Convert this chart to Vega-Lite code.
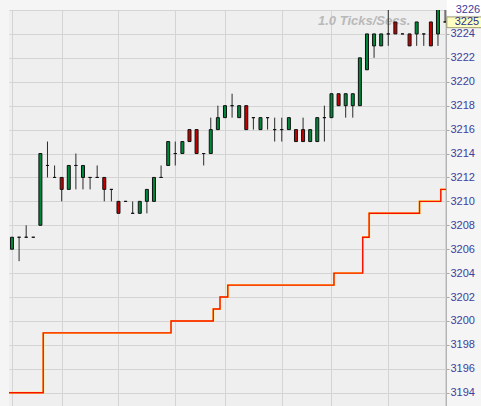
{
  "$schema": "https://vega.github.io/schema/vega-lite/v6.json",
  "width": 437,
  "height": 396,
  "autosize": {"type": "none"},
  "padding": {"left": 9, "top": 10, "right": 35, "bottom": 0},
  "background": "#f5f5f5",
  "config": {"view": {"fill": "#efefef", "stroke": null}, "axis": {"labelOverlap": false}},
  "datasets": {
    "candles": [
      {"i": 0, "o": 3206, "h": 3207, "l": 3206, "c": 3207},
      {"i": 1, "o": 3207, "h": 3207, "l": 3205, "c": 3207},
      {"i": 2, "o": 3207, "h": 3208, "l": 3207, "c": 3207},
      {"i": 3, "o": 3207, "h": 3207, "l": 3207, "c": 3207},
      {"i": 4, "o": 3208, "h": 3214, "l": 3208, "c": 3214},
      {"i": 5, "o": 3213, "h": 3215, "l": 3212, "c": 3213},
      {"i": 6, "o": 3212, "h": 3213, "l": 3212, "c": 3212},
      {"i": 7, "o": 3212, "h": 3212, "l": 3210, "c": 3211},
      {"i": 8, "o": 3211, "h": 3213, "l": 3211, "c": 3213},
      {"i": 9, "o": 3213, "h": 3214, "l": 3211, "c": 3213},
      {"i": 10, "o": 3212, "h": 3213, "l": 3211, "c": 3213},
      {"i": 11, "o": 3212, "h": 3212, "l": 3211, "c": 3212},
      {"i": 12, "o": 3212, "h": 3213, "l": 3212, "c": 3212},
      {"i": 13, "o": 3212, "h": 3212, "l": 3210, "c": 3211},
      {"i": 14, "o": 3211, "h": 3211, "l": 3210, "c": 3211},
      {"i": 15, "o": 3210, "h": 3210, "l": 3209, "c": 3209},
      {"i": 16, "o": 3210, "h": 3210, "l": 3210, "c": 3210},
      {"i": 17, "o": 3209, "h": 3210, "l": 3209, "c": 3209},
      {"i": 18, "o": 3209, "h": 3210, "l": 3209, "c": 3210},
      {"i": 19, "o": 3210, "h": 3211, "l": 3209, "c": 3211},
      {"i": 20, "o": 3210, "h": 3212, "l": 3210, "c": 3212},
      {"i": 21, "o": 3212, "h": 3213, "l": 3212, "c": 3212},
      {"i": 22, "o": 3213, "h": 3215, "l": 3213, "c": 3215},
      {"i": 23, "o": 3214, "h": 3215, "l": 3213, "c": 3214},
      {"i": 24, "o": 3214, "h": 3215, "l": 3214, "c": 3215},
      {"i": 25, "o": 3216, "h": 3216, "l": 3215, "c": 3215},
      {"i": 26, "o": 3216, "h": 3216, "l": 3214, "c": 3214},
      {"i": 27, "o": 3214, "h": 3214, "l": 3213, "c": 3214},
      {"i": 28, "o": 3214, "h": 3217, "l": 3214, "c": 3216},
      {"i": 29, "o": 3216, "h": 3218, "l": 3216, "c": 3217},
      {"i": 30, "o": 3217, "h": 3218, "l": 3217, "c": 3218},
      {"i": 31, "o": 3218, "h": 3219, "l": 3217, "c": 3218},
      {"i": 32, "o": 3217, "h": 3218, "l": 3217, "c": 3218},
      {"i": 33, "o": 3218, "h": 3218, "l": 3216, "c": 3216},
      {"i": 34, "o": 3217, "h": 3217, "l": 3216, "c": 3217},
      {"i": 35, "o": 3216, "h": 3217, "l": 3216, "c": 3217},
      {"i": 36, "o": 3217, "h": 3217, "l": 3216, "c": 3217},
      {"i": 37, "o": 3216, "h": 3217, "l": 3215, "c": 3216},
      {"i": 38, "o": 3216, "h": 3217, "l": 3215, "c": 3216},
      {"i": 39, "o": 3216, "h": 3217, "l": 3216, "c": 3217},
      {"i": 40, "o": 3216, "h": 3216, "l": 3215, "c": 3215},
      {"i": 41, "o": 3216, "h": 3217, "l": 3215, "c": 3215},
      {"i": 42, "o": 3215, "h": 3216, "l": 3215, "c": 3216},
      {"i": 43, "o": 3215, "h": 3217, "l": 3215, "c": 3217},
      {"i": 44, "o": 3217, "h": 3218, "l": 3215, "c": 3217},
      {"i": 45, "o": 3217, "h": 3219, "l": 3217, "c": 3219},
      {"i": 46, "o": 3219, "h": 3219, "l": 3218, "c": 3218},
      {"i": 47, "o": 3218, "h": 3219, "l": 3217, "c": 3219},
      {"i": 48, "o": 3218, "h": 3219, "l": 3217, "c": 3219},
      {"i": 49, "o": 3218, "h": 3222, "l": 3218, "c": 3222},
      {"i": 50, "o": 3221, "h": 3224, "l": 3221, "c": 3224},
      {"i": 51, "o": 3223, "h": 3224, "l": 3222, "c": 3224},
      {"i": 52, "o": 3223, "h": 3224, "l": 3223, "c": 3224},
      {"i": 53, "o": 3224, "h": 3226.5, "l": 3223, "c": 3224},
      {"i": 54, "o": 3225, "h": 3225, "l": 3224, "c": 3224},
      {"i": 55, "o": 3224, "h": 3224, "l": 3224, "c": 3224},
      {"i": 56, "o": 3224, "h": 3224, "l": 3223, "c": 3223},
      {"i": 57, "o": 3224, "h": 3225, "l": 3223, "c": 3225},
      {"i": 58, "o": 3224, "h": 3224, "l": 3223, "c": 3224},
      {"i": 59, "o": 3225, "h": 3225, "l": 3223, "c": 3223},
      {"i": 60, "o": 3224, "h": 3226.5, "l": 3223, "c": 3226.5},
      {"i": 61, "o": 3225, "h": 3226.5, "l": 3225, "c": 3225}
    ],
    "stop": [
      {"i": -0.42, "v": 3194},
      {"i": 4.4, "v": 3199},
      {"i": 22.4, "v": 3200},
      {"i": 28.35, "v": 3201},
      {"i": 29.3, "v": 3202},
      {"i": 30.4, "v": 3203},
      {"i": 45.35, "v": 3204},
      {"i": 49.4, "v": 3207},
      {"i": 50.3, "v": 3209},
      {"i": 57.4, "v": 3210},
      {"i": 60.4, "v": 3211},
      {"i": 61.13, "v": 3211}
    ],
    "info": [{"label": "1.0 Ticks/Secs."}],
    "top": [{"p": 3226}],
    "last": [{"p": 3225}]
  },
  "layer": [
    {
      "data": {"name": "info"},
      "mark": {"type": "text", "font": "Liberation Sans", "fontSize": 13, "fontStyle": "italic", "fontWeight": "bold", "color": "#b9b9b9", "align": "left", "baseline": "alphabetic"},
      "encoding": {
        "x": {"datum": 43.1, "type": "quantitative",
              "scale": {"domain": [-0.42, 61.13], "nice": false, "zero": false, "padding": 0},
              "axis": {"values": [0, 7, 15, 23, 30, 38, 45, 53, 61], "grid": true, "gridColor": "#d4d4d4", "labels": false, "ticks": false, "domain": false, "title": null}},
        "y": {"datum": 3224.75, "type": "quantitative",
              "scale": {"domain": [3192.89, 3226], "nice": false, "zero": false, "padding": 0},
              "axis": {"orient": "right", "title": null, "format": "d", "labelOverlap": false, "labelBound": false, "labelFlush": false,
                       "values": [3194, 3196, 3198, 3200, 3202, 3204, 3206, 3208, 3210, 3212, 3214, 3216, 3218, 3220, 3222, 3224, 3226],
                       "labelExpr": "datum.value == 3226 ? '' : datum.label",
                       "grid": true, "gridColor": "#d4d4d4",
                       "labelColor": "#40409c", "labelFont": "Liberation Sans", "labelFontSize": 11,
                       "labelPadding": 1, "tickSize": 3, "tickColor": "#a8a8a8", "domainColor": "#b4b4b4"}},
        "text": {"field": "label"}
      }
    },
    {
      "data": {"name": "stop"},
      "mark": {"type": "line", "interpolate": "step-after", "color": "#ffe040", "strokeWidth": 2.0},
      "encoding": {
        "x": {"field": "i", "type": "quantitative",
              "scale": {"domain": [-0.42, 61.13], "nice": false, "zero": false, "padding": 0},
              "axis": {"values": [0, 7, 15, 23, 30, 38, 45, 53, 61], "grid": true, "gridColor": "#d4d4d4", "labels": false, "ticks": false, "domain": false, "title": null}},
        "y": {"field": "v", "type": "quantitative",
              "scale": {"domain": [3192.89, 3226], "nice": false, "zero": false, "padding": 0},
              "axis": {"orient": "right", "title": null, "format": "d", "labelOverlap": false, "labelBound": false, "labelFlush": false,
                       "values": [3194, 3196, 3198, 3200, 3202, 3204, 3206, 3208, 3210, 3212, 3214, 3216, 3218, 3220, 3222, 3224, 3226],
                       "labelExpr": "datum.value == 3226 ? '' : datum.label",
                       "grid": true, "gridColor": "#d4d4d4",
                       "labelColor": "#40409c", "labelFont": "Liberation Sans", "labelFontSize": 11,
                       "labelPadding": 1, "tickSize": 3, "tickColor": "#a8a8a8", "domainColor": "#b4b4b4"}}
      }
    },
    {
      "data": {"name": "stop"},
      "mark": {"type": "line", "interpolate": "step-after", "color": "#f81000", "strokeWidth": 1.4},
      "encoding": {
        "x": {"field": "i", "type": "quantitative",
              "scale": {"domain": [-0.42, 61.13], "nice": false, "zero": false, "padding": 0},
              "axis": {"values": [0, 7, 15, 23, 30, 38, 45, 53, 61], "grid": true, "gridColor": "#d4d4d4", "labels": false, "ticks": false, "domain": false, "title": null}},
        "y": {"field": "v", "type": "quantitative",
              "scale": {"domain": [3192.89, 3226], "nice": false, "zero": false, "padding": 0},
              "axis": {"orient": "right", "title": null, "format": "d", "labelOverlap": false, "labelBound": false, "labelFlush": false,
                       "values": [3194, 3196, 3198, 3200, 3202, 3204, 3206, 3208, 3210, 3212, 3214, 3216, 3218, 3220, 3222, 3224, 3226],
                       "labelExpr": "datum.value == 3226 ? '' : datum.label",
                       "grid": true, "gridColor": "#d4d4d4",
                       "labelColor": "#40409c", "labelFont": "Liberation Sans", "labelFontSize": 11,
                       "labelPadding": 1, "tickSize": 3, "tickColor": "#a8a8a8", "domainColor": "#b4b4b4"}}
      }
    },
    {
      "data": {"name": "candles"},
      "mark": {"type": "rule", "color": "#2a2a2a", "strokeWidth": 1, "clip": true},
      "encoding": {
        "x": {"field": "i", "type": "quantitative",
              "scale": {"domain": [-0.42, 61.13], "nice": false, "zero": false, "padding": 0},
              "axis": {"values": [0, 7, 15, 23, 30, 38, 45, 53, 61], "grid": true, "gridColor": "#d4d4d4", "labels": false, "ticks": false, "domain": false, "title": null}},
        "y": {"field": "l", "type": "quantitative",
              "scale": {"domain": [3192.89, 3226], "nice": false, "zero": false, "padding": 0},
              "axis": {"orient": "right", "title": null, "format": "d", "labelOverlap": false, "labelBound": false, "labelFlush": false,
                       "values": [3194, 3196, 3198, 3200, 3202, 3204, 3206, 3208, 3210, 3212, 3214, 3216, 3218, 3220, 3222, 3224, 3226],
                       "labelExpr": "datum.value == 3226 ? '' : datum.label",
                       "grid": true, "gridColor": "#d4d4d4",
                       "labelColor": "#40409c", "labelFont": "Liberation Sans", "labelFontSize": 11,
                       "labelPadding": 1, "tickSize": 3, "tickColor": "#a8a8a8", "domainColor": "#b4b4b4"}},
        "y2": {"field": "h"}
      }
    },
    {
      "data": {"name": "candles"},
      "mark": {"type": "bar", "width": 3, "stroke": "#111111", "strokeWidth": 1, "clip": true},
      "encoding": {
        "x": {"field": "i", "type": "quantitative",
              "scale": {"domain": [-0.42, 61.13], "nice": false, "zero": false, "padding": 0},
              "axis": {"values": [0, 7, 15, 23, 30, 38, 45, 53, 61], "grid": true, "gridColor": "#d4d4d4", "labels": false, "ticks": false, "domain": false, "title": null}},
        "y": {"field": "o", "type": "quantitative",
              "scale": {"domain": [3192.89, 3226], "nice": false, "zero": false, "padding": 0},
              "axis": {"orient": "right", "title": null, "format": "d", "labelOverlap": false, "labelBound": false, "labelFlush": false,
                       "values": [3194, 3196, 3198, 3200, 3202, 3204, 3206, 3208, 3210, 3212, 3214, 3216, 3218, 3220, 3222, 3224, 3226],
                       "labelExpr": "datum.value == 3226 ? '' : datum.label",
                       "grid": true, "gridColor": "#d4d4d4",
                       "labelColor": "#40409c", "labelFont": "Liberation Sans", "labelFontSize": 11,
                       "labelPadding": 1, "tickSize": 3, "tickColor": "#a8a8a8", "domainColor": "#b4b4b4"}},
        "y2": {"field": "c"},
        "fill": {"condition": {"test": "datum.c < datum.o", "value": "#c40000"}, "value": "#00873a"}
      }
    },
    {
      "data": {"name": "top"},
      "mark": {"type": "rect", "fill": "#ffffff", "clip": false},
      "encoding": {
        "x": {"datum": 61.25, "type": "quantitative",
              "scale": {"domain": [-0.42, 61.13], "nice": false, "zero": false, "padding": 0},
              "axis": {"values": [0, 7, 15, 23, 30, 38, 45, 53, 61], "grid": true, "gridColor": "#d4d4d4", "labels": false, "ticks": false, "domain": false, "title": null}},
        "x2": {"datum": 66.3},
        "y": {"datum": 3226.9, "type": "quantitative",
              "scale": {"domain": [3192.89, 3226], "nice": false, "zero": false, "padding": 0},
              "axis": {"orient": "right", "title": null, "format": "d", "labelOverlap": false, "labelBound": false, "labelFlush": false,
                       "values": [3194, 3196, 3198, 3200, 3202, 3204, 3206, 3208, 3210, 3212, 3214, 3216, 3218, 3220, 3222, 3224, 3226],
                       "labelExpr": "datum.value == 3226 ? '' : datum.label",
                       "grid": true, "gridColor": "#d4d4d4",
                       "labelColor": "#40409c", "labelFont": "Liberation Sans", "labelFontSize": 11,
                       "labelPadding": 1, "tickSize": 3, "tickColor": "#a8a8a8", "domainColor": "#b4b4b4"}},
        "y2": {"datum": 3225.55}
      }
    },
    {
      "data": {"name": "top"},
      "mark": {"type": "text", "font": "Liberation Sans", "fontSize": 11, "color": "#40409c", "align": "right", "baseline": "middle"},
      "encoding": {
        "x": {"datum": 65.95, "type": "quantitative",
              "scale": {"domain": [-0.42, 61.13], "nice": false, "zero": false, "padding": 0},
              "axis": {"values": [0, 7, 15, 23, 30, 38, 45, 53, 61], "grid": true, "gridColor": "#d4d4d4", "labels": false, "ticks": false, "domain": false, "title": null}},
        "y": {"field": "p", "type": "quantitative",
              "scale": {"domain": [3192.89, 3226], "nice": false, "zero": false, "padding": 0},
              "axis": {"orient": "right", "title": null, "format": "d", "labelOverlap": false, "labelBound": false, "labelFlush": false,
                       "values": [3194, 3196, 3198, 3200, 3202, 3204, 3206, 3208, 3210, 3212, 3214, 3216, 3218, 3220, 3222, 3224, 3226],
                       "labelExpr": "datum.value == 3226 ? '' : datum.label",
                       "grid": true, "gridColor": "#d4d4d4",
                       "labelColor": "#40409c", "labelFont": "Liberation Sans", "labelFontSize": 11,
                       "labelPadding": 1, "tickSize": 3, "tickColor": "#a8a8a8", "domainColor": "#b4b4b4"}},
        "text": {"field": "p", "type": "quantitative", "format": "d"}
      }
    },
    {
      "data": {"name": "last"},
      "mark": {"type": "rect", "fill": "#ffffc4", "stroke": "#9a9a70", "strokeWidth": 1, "clip": false},
      "encoding": {
        "x": {"datum": 61.25, "type": "quantitative",
              "scale": {"domain": [-0.42, 61.13], "nice": false, "zero": false, "padding": 0},
              "axis": {"values": [0, 7, 15, 23, 30, 38, 45, 53, 61], "grid": true, "gridColor": "#d4d4d4", "labels": false, "ticks": false, "domain": false, "title": null}},
        "x2": {"datum": 66.4},
        "y": {"datum": 3225.42, "type": "quantitative",
              "scale": {"domain": [3192.89, 3226], "nice": false, "zero": false, "padding": 0},
              "axis": {"orient": "right", "title": null, "format": "d", "labelOverlap": false, "labelBound": false, "labelFlush": false,
                       "values": [3194, 3196, 3198, 3200, 3202, 3204, 3206, 3208, 3210, 3212, 3214, 3216, 3218, 3220, 3222, 3224, 3226],
                       "labelExpr": "datum.value == 3226 ? '' : datum.label",
                       "grid": true, "gridColor": "#d4d4d4",
                       "labelColor": "#40409c", "labelFont": "Liberation Sans", "labelFontSize": 11,
                       "labelPadding": 1, "tickSize": 3, "tickColor": "#a8a8a8", "domainColor": "#b4b4b4"}},
        "y2": {"datum": 3224.52}
      }
    },
    {
      "data": {"name": "last"},
      "mark": {"type": "text", "font": "Liberation Sans", "fontSize": 11, "color": "#2e2e86", "align": "right", "baseline": "middle"},
      "encoding": {
        "x": {"datum": 65.8, "type": "quantitative",
              "scale": {"domain": [-0.42, 61.13], "nice": false, "zero": false, "padding": 0},
              "axis": {"values": [0, 7, 15, 23, 30, 38, 45, 53, 61], "grid": true, "gridColor": "#d4d4d4", "labels": false, "ticks": false, "domain": false, "title": null}},
        "y": {"field": "p", "type": "quantitative",
              "scale": {"domain": [3192.89, 3226], "nice": false, "zero": false, "padding": 0},
              "axis": {"orient": "right", "title": null, "format": "d", "labelOverlap": false, "labelBound": false, "labelFlush": false,
                       "values": [3194, 3196, 3198, 3200, 3202, 3204, 3206, 3208, 3210, 3212, 3214, 3216, 3218, 3220, 3222, 3224, 3226],
                       "labelExpr": "datum.value == 3226 ? '' : datum.label",
                       "grid": true, "gridColor": "#d4d4d4",
                       "labelColor": "#40409c", "labelFont": "Liberation Sans", "labelFontSize": 11,
                       "labelPadding": 1, "tickSize": 3, "tickColor": "#a8a8a8", "domainColor": "#b4b4b4"}},
        "text": {"field": "p", "type": "quantitative", "format": "d"}
      }
    }
  ]
}
